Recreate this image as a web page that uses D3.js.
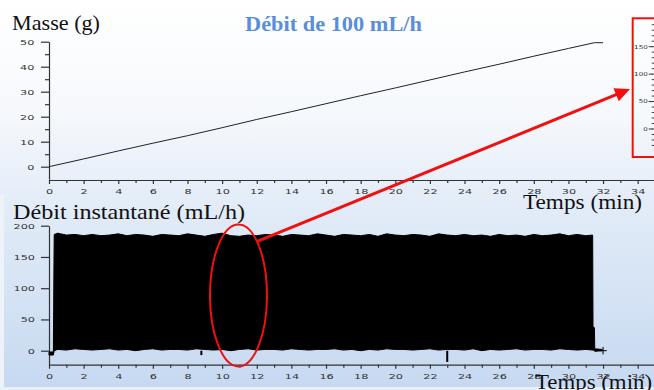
<!DOCTYPE html>
<html>
<head>
<meta charset="utf-8">
<script src="https://cdn.jsdelivr.net/npm/d3@7"></script>
<style>
  html, body { margin: 0; padding: 0; background: #fff; }
  svg { display: block; }
</style>
</head>
<body>
<div id="chart"></div>
<script>
// masse cumulée (g) en fonction du temps (min)
const massTimes = [0, 2, 4, 6, 8, 10, 12, 14, 16, 18, 20, 22, 24, 26, 28, 30, 31.5, 32];
const massValues = [0, 3.1, 6.3, 9.4, 12.4, 15.6, 18.9, 22.0, 25.2, 28.4, 31.5, 34.7, 37.9, 41.0, 44.2, 47.3, 49.6, 49.6];

// débit instantané (mL/h) : enveloppe haute et basse du signal
const flowTimes = [0, 0.25, 0.3,
  0.5, 1, 1.5, 2, 2.5, 3, 3.5, 4, 4.5, 5, 5.5, 6, 6.5, 7, 7.5, 8, 8.5, 9, 9.5, 10,
  10.5, 11, 11.5, 12, 12.5, 13, 13.5, 14, 14.5, 15, 15.5, 16, 16.5, 17, 17.5, 18, 18.5, 19, 19.5, 20,
  20.5, 21, 21.5, 22, 22.5, 23, 23.5, 24, 24.5, 25, 25.5, 26, 26.5, 27, 27.5, 28, 28.5, 29, 29.5, 30,
  30.5, 31, 31.4, 31.42, 31.5, 31.52, 31.95];
const flowHigh = [-2, -2, 186,
  188, 185, 186, 184, 186, 184, 185, 187, 184, 186, 185, 183, 186, 185, 184, 187, 185, 183, 186, 188,
  184, 183, 185, 184, 186, 185, 183, 186, 185, 184, 187, 185, 183, 186, 185, 184, 186, 183, 187, 185,
  184, 186, 185, 183, 187, 185, 184, 186, 184, 185, 183, 186, 184, 185, 183, 186, 184, 185, 187, 184,
  186, 184, 185, 38, 37, 3, 2];
const flowLow = [-7, -7, 0,
  2, 1, 3, 2, 1, 2, 3, 1, 2, 0, 2, 3, 1, 2, 2, 1, 3, 2, 1, 2,
  0, 2, 3, 1, 2, 2, 1, 3, 2, 1, 2, 2, 3, 1, 2, 0, 2, 1, 3, 2,
  2, 1, 2, 3, 1, 2, 2, 1, 3, 0, 2, 1, 2, 3, 1, 2, 2, 1, 3, 2,
  1, 2, 1, 1, 0, -1, 0];
const spikeTimes = [8.8, 23.0];
const spikeValues = [-7, -18];
const flowEnd = [32, 0];

// graduations
const timeTicks = [0, 2, 4, 6, 8, 10, 12, 14, 16, 18, 20, 22, 24, 26, 28, 30, 32, 34];
const massTicks = [0, 10, 20, 30, 40, 50];
const flowTicks = [0, 50, 100, 150, 200];
const insetTicks = [0, 50, 100, 150];

const width = 654;
const height = 390;
const tickFont = 'DejaVu Sans, sans-serif';
const serif = 'Liberation Serif, DejaVu Serif, serif';

const svg = d3.select('#chart')
  .append('svg')
  .attr('width', width)
  .attr('height', height);

// fond de la diapositive
const grad = svg.append('defs').append('linearGradient')
  .attr('id', 'bg')
  .attr('gradientUnits', 'userSpaceOnUse')
  .attr('x1', 0).attr('y1', 0).attr('x2', 0).attr('y2', height);
grad.append('stop').attr('offset', 0).attr('stop-color', '#ffffff');
grad.append('stop').attr('offset', 0.3).attr('stop-color', '#f5f8fc');
grad.append('stop').attr('offset', 0.5).attr('stop-color', '#e4edf8');
grad.append('stop').attr('offset', 1).attr('stop-color', '#c6d9f1');

svg.append('rect').attr('width', width).attr('height', height).attr('fill', 'url(#bg)');
svg.append('rect').attr('x', 0).attr('y', 195).attr('width', 4).attr('height', 195).attr('fill', '#eef3fa');
svg.append('rect').attr('x', 0).attr('y', 387).attr('width', width).attr('height', 3).attr('fill', '#e9f0f9');

const x = d3.scaleLinear().domain([0, 35]).range([49, 655]);
const yMass = d3.scaleLinear().domain([-5, 50]).range([179.2, 41.7]);
const yFlow = d3.scaleLinear().domain([-22.4, 200]).range([364.7, 225.7]);

function styleAxis(g) {
  g.selectAll('path, line').attr('stroke', '#333').attr('stroke-width', 1.2);
  g.selectAll('text')
    .attr('fill', '#333')
    .style('font-family', tickFont)
    .style('font-size', '7.5px');
}

function bottomAxis(yPos, labelOffset) {
  const minor = svg.append('g')
    .attr('transform', `translate(0,${yPos})`)
    .call(d3.axisBottom(x).tickValues(d3.range(1, 35, 2)).tickSize(3).tickSizeOuter(0).tickFormat(''));
  minor.select('.domain').remove();
  styleAxis(minor);

  const g = svg.append('g')
    .attr('transform', `translate(0,${yPos})`)
    .call(d3.axisBottom(x).tickValues(timeTicks).tickSize(4).tickSizeOuter(0));
  styleAxis(g);
  g.selectAll('text')
    .attr('y', labelOffset)
    .attr('dy', '0.35em')
    .attr('transform', 'scale(1.5,1)')
    .attr('x', 0);
  // recentre les étiquettes après l'étirement horizontal
  g.selectAll('.tick').each(function(d) {
    d3.select(this).select('text').attr('x', 0);
  });
  return g;
}

function leftAxis(scale, values, minorValues, labelRight) {
  if (minorValues) {
    const minor = svg.append('g')
      .attr('transform', 'translate(49,0)')
      .call(d3.axisLeft(scale).tickValues(minorValues).tickSize(4).tickSizeOuter(0).tickFormat(''));
    minor.select('.domain').remove();
    styleAxis(minor);
  }
  const g = svg.append('g')
    .attr('transform', 'translate(49,0)')
    .call(d3.axisLeft(scale).tickValues(values).tickSize(8).tickSizeOuter(0));
  styleAxis(g);
  g.selectAll('text')
    .attr('x', -labelRight / 1.5)
    .attr('transform', 'scale(1.5,1)');
  return g;
}

// ---------- graphique du haut : masse ----------
bottomAxis(180, 11.7);
leftAxis(yMass, massTicks, [45, 35, 25, 15, 5], 14.7);

const massLine = d3.line()
  .x((d, i) => x(massTimes[i]))
  .y(d => yMass(d));

svg.append('path')
  .datum(massValues)
  .attr('fill', 'none')
  .attr('stroke', '#222')
  .attr('stroke-width', 1)
  .attr('d', massLine);

// ---------- graphique du bas : débit instantané ----------
bottomAxis(364.7, 12);
leftAxis(yFlow, flowTicks, null, 14);

const flowArea = d3.area()
  .x((d, i) => x(flowTimes[i]))
  .y0((d, i) => yFlow(flowLow[i]))
  .y1(d => yFlow(d));

svg.append('path')
  .datum(flowHigh)
  .attr('fill', '#000')
  .attr('stroke', '#000')
  .attr('stroke-width', 1)
  .attr('d', flowArea);

svg.selectAll('.spike')
  .data(spikeTimes)
  .enter()
  .append('line')
  .attr('class', 'spike')
  .attr('x1', d => x(d))
  .attr('x2', d => x(d))
  .attr('y1', yFlow(0))
  .attr('y2', (d, i) => yFlow(spikeValues[i]))
  .attr('stroke', '#000')
  .attr('stroke-width', 2);

svg.append('path')
  .attr('d', d3.symbol(d3.symbolPlus, 20)())
  .attr('transform', `translate(${x(flowEnd[0])},${yFlow(flowEnd[1])})`)
  .attr('fill', 'none')
  .attr('stroke', '#000')
  .attr('stroke-width', 1);

// ---------- textes ----------
svg.append('text')
  .attr('x', 12).attr('y', 29.5)
  .attr('textLength', 88).attr('lengthAdjust', 'spacingAndGlyphs')
  .style('font-family', serif).style('font-size', '22px')
  .attr('fill', '#111')
  .text('Masse (g)');

svg.append('text')
  .attr('x', 245).attr('y', 31)
  .attr('textLength', 177).attr('lengthAdjust', 'spacingAndGlyphs')
  .style('font-family', serif).style('font-size', '21px').style('font-weight', 'bold')
  .attr('fill', '#5a8ed8')
  .text('Débit de 100 mL/h');

svg.append('text')
  .attr('x', 523).attr('y', 209)
  .attr('textLength', 119).attr('lengthAdjust', 'spacingAndGlyphs')
  .style('font-family', serif).style('font-size', '22px')
  .attr('fill', '#111')
  .text('Temps (min)');

svg.append('text')
  .attr('x', 13).attr('y', 218.5)
  .attr('textLength', 232).attr('lengthAdjust', 'spacingAndGlyphs')
  .style('font-family', serif).style('font-size', '22px')
  .attr('fill', '#111')
  .text('Débit instantané (mL/h)');

svg.append('text')
  .attr('x', 535).attr('y', 388.5)
  .attr('textLength', 117).attr('lengthAdjust', 'spacingAndGlyphs')
  .style('font-family', serif).style('font-size', '22px')
  .attr('fill', '#111')
  .text('Temps (min)');

// ---------- annotations rouges ----------
const red = '#f01010';

svg.append('ellipse')
  .attr('cx', 238.5).attr('cy', 295.5)
  .attr('rx', 28.5).attr('ry', 71)
  .attr('fill', 'none')
  .attr('stroke', red)
  .attr('stroke-width', 2);

// encart : échelle agrandie du débit
const yInset = d3.scaleLinear().domain([0, 150]).range([129, 46.7]);

svg.append('rect')
  .attr('x', 632.7).attr('y', 18.3)
  .attr('width', 40).attr('height', 138.7)
  .attr('fill', 'none')
  .attr('stroke', red)
  .attr('stroke-width', 2);

const inset = svg.append('g').attr('transform', 'translate(652.7,0)');
inset.selectAll('.minor')
  .data(d3.range(-30, 200, 10))
  .enter()
  .append('line')
  .attr('x1', -1).attr('x2', 2)
  .attr('y1', d => yInset(d)).attr('y2', d => yInset(d))
  .attr('stroke', '#444')
  .attr('stroke-width', 1);
inset.selectAll('.major')
  .data(insetTicks)
  .enter()
  .append('line')
  .attr('x1', -4).attr('x2', 0)
  .attr('y1', d => yInset(d)).attr('y2', d => yInset(d))
  .attr('stroke', '#333')
  .attr('stroke-width', 1);
inset.selectAll('.lab')
  .data(insetTicks)
  .enter()
  .append('text')
  .attr('x', -5 / 1.3)
  .attr('y', d => yInset(d))
  .attr('dy', '0.35em')
  .attr('text-anchor', 'end')
  .attr('transform', 'scale(1.3,1)')
  .style('font-family', tickFont).style('font-size', '5.5px')
  .attr('fill', '#333')
  .text(d => d);

// flèche
const arrowFrom = [256.7, 241.7];
const arrowTip = [630, 89];
const dx = arrowTip[0] - arrowFrom[0];
const dy = arrowTip[1] - arrowFrom[1];
const len = Math.sqrt(dx * dx + dy * dy);
const ux = dx / len, uy = dy / len;
const headLen = 15, headHalf = 7;
const base = [arrowTip[0] - ux * headLen, arrowTip[1] - uy * headLen];

svg.append('line')
  .attr('x1', arrowFrom[0]).attr('y1', arrowFrom[1])
  .attr('x2', base[0] + ux * 2).attr('y2', base[1] + uy * 2)
  .attr('stroke', red)
  .attr('stroke-width', 3);

svg.append('path')
  .attr('d', d3.line()([
    arrowTip,
    [base[0] - uy * headHalf, base[1] + ux * headHalf],
    [base[0] + uy * headHalf, base[1] - ux * headHalf]
  ]) + 'Z')
  .attr('fill', red);
</script>
</body>
</html>
